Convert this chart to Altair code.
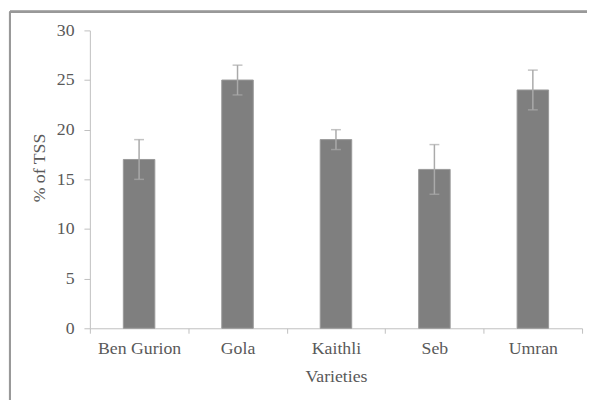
import altair as alt
import pandas as pd

varieties = ["Ben Gurion", "Gola", "Kaithli", "Seb", "Umran"]
tss = [17, 25, 19, 16, 24]
err = [2.0, 1.5, 1.0, 2.5, 2.0]

df = pd.DataFrame({
    "variety": varieties,
    "tss": tss,
    "lo": [v - e for v, e in zip(tss, err)],
    "hi": [v + e for v, e in zip(tss, err)],
})

W, H = 499, 302
font = "Liberation Serif"
txt = "#595959"

x = alt.X("variety:N", sort=varieties, title="Varieties",
          scale=alt.Scale(paddingInner=0, paddingOuter=0),
          axis=alt.Axis(labelAngle=0, tickBand="extent", tickSize=5,
                        labelPadding=7, titlePadding=10,
                        domainColor="#bfbfbf", tickColor="#bfbfbf"))
y = alt.Y("tss:Q", title="% of TSS",
          scale=alt.Scale(domain=[0, 30]),
          axis=alt.Axis(values=[0, 5, 10, 15, 20, 25, 30], grid=False,
                        tickSize=6, labelPadding=10, titlePadding=8,
                        titleY=139,
                        domain=True, domainColor="#bfbfbf", tickColor="#bfbfbf"))

base = alt.Chart(df)
bars = base.mark_bar(width=alt.RelativeBandSize(0.32), color="#7f7f7f",
                     stroke="#999999", strokeWidth=1).encode(x=x, y=y)
rules = base.mark_rule(color="#aaaaaa", strokeWidth=1.5).encode(
    x=alt.X("variety:N", sort=varieties), y="lo:Q", y2="hi:Q")
caps_lo = base.mark_tick(color="#aaaaaa", size=10, thickness=1.5).encode(
    x=alt.X("variety:N", sort=varieties), y="lo:Q")
caps_hi = base.mark_tick(color="#aaaaaa", size=10, thickness=1.5).encode(
    x=alt.X("variety:N", sort=varieties), y="hi:Q")

frame_left = alt.Chart(df).mark_rule(color="#999999", strokeWidth=2, clip=False).encode(
    x=alt.value(-81), x2=alt.value(-81), y=alt.value(-19), y2=alt.value(H + 90))
frame_top = alt.Chart(df).mark_rule(color="#999999", strokeWidth=2, clip=False).encode(
    x=alt.value(-81), x2=alt.value(W + 20), y=alt.value(-19), y2=alt.value(-19))

chart = alt.layer(bars, rules, caps_lo, caps_hi, frame_left, frame_top).properties(
    width=W, height=H,
    autosize=alt.AutoSizeParams(type="none"),
    padding={"left": 83, "top": 20, "right": 5, "bottom": 70},
).configure_view(stroke=None).configure_axis(
    labelFont=font, titleFont=font, labelFontSize=18, titleFontSize=18,
    labelColor=txt, titleColor=txt, titleFontWeight="normal",
)

chart.save("out.html", embed_options={"renderer": "svg", "actions": False})
